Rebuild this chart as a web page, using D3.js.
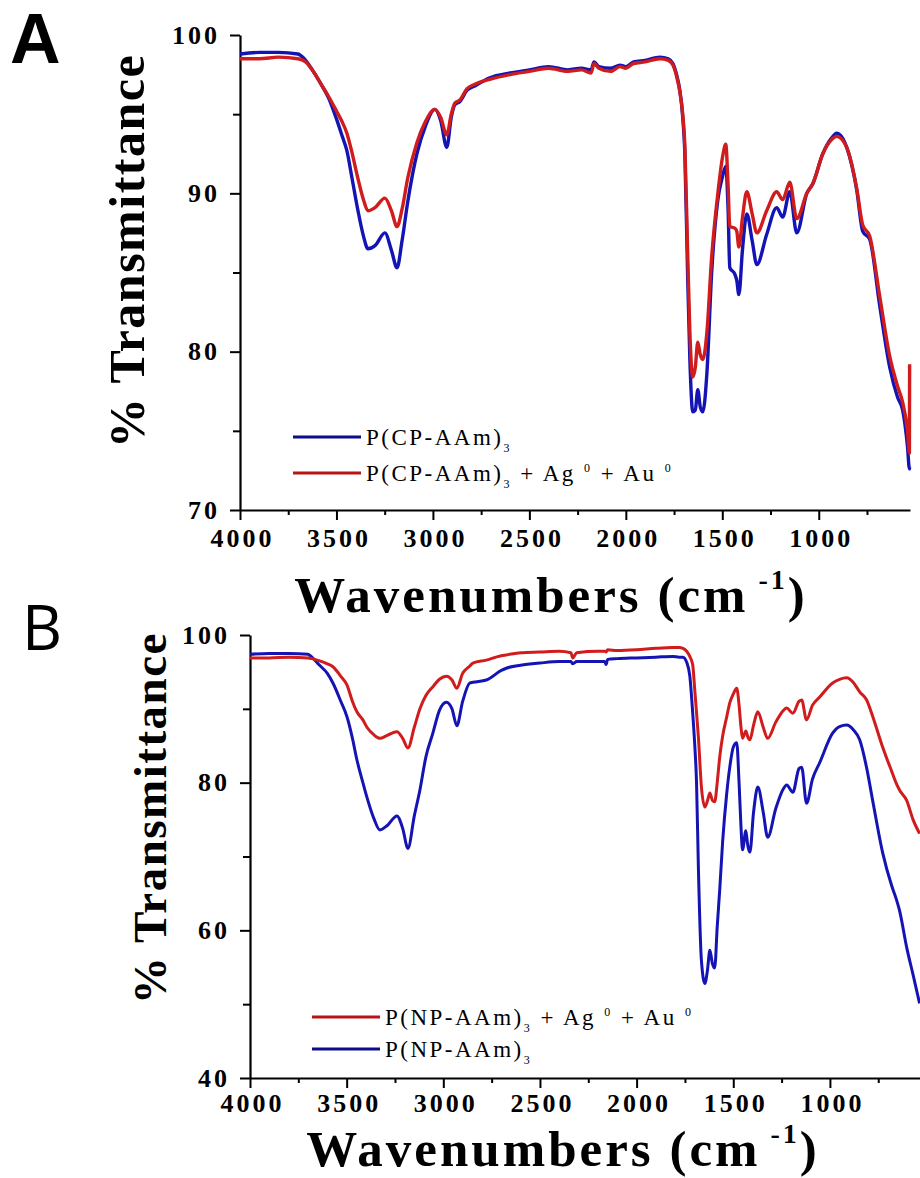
<!DOCTYPE html>
<html>
<head>
<meta charset="utf-8">
<script src="https://cdn.jsdelivr.net/npm/d3@7/dist/d3.min.js"></script>
<style>
body { margin: 0; background: #fff; }
svg { display: block; }
.tick text { font-family: "Liberation Serif", "Times New Roman", serif; font-weight: bold; font-size: 26px; letter-spacing: 3px; fill: #000; }
.serif { font-family: "Liberation Serif", "Times New Roman", serif; fill: #000; }
</style>
</head>
<body>
<div id="chart"></div>
<script>
'use strict';

// Panel A - P(CP-AAm)3 spectra
var waveA = [4000, 3900, 3800, 3700, 3660, 3620, 3580, 3540, 3500, 3470, 3446, 3420, 3390, 3360, 3337, 3300, 3249, 3215, 3186, 3160,
    3130, 3083, 3040, 2990, 2960, 2928, 2905, 2886, 2860, 2824, 2780, 2705, 2600, 2500, 2400, 2300, 2230, 2180, 2165, 2140,
    2080, 2030, 2000, 1960, 1900, 1824, 1780, 1756, 1735, 1720, 1705, 1694, 1680, 1668, 1653, 1640, 1627, 1614, 1601, 1580,
    1555, 1523, 1500, 1482, 1470, 1461, 1435, 1425, 1414, 1395, 1373, 1345, 1321, 1270, 1218, 1187, 1150, 1114, 1062, 1031,
    979, 933, 907, 855, 803, 772, 736, 684, 632, 591, 565, 540, 530, 529];
var blueA = [98.8, 98.9, 98.9, 98.8, 98.4, 97.7, 96.9, 96.0, 94.7, 93.6, 92.7, 91.0, 89.0, 87.3, 86.5, 86.7, 87.5, 86.4, 85.3, 87.0,
    89.5, 92.5, 94.2, 95.3, 94.6, 92.9, 94.8, 95.6, 95.8, 96.5, 96.8, 97.3, 97.6, 97.8, 98.0, 97.8, 97.9, 97.8, 98.3, 98.0,
    97.9, 98.1, 98.0, 98.3, 98.4, 98.6, 98.5, 98.2, 97.4, 96.5, 94.8, 92.5, 85.0, 79.5, 76.2, 76.3, 77.6, 76.5, 76.2, 78.6,
    85.0, 89.6, 91.0, 91.7, 89.0, 85.3, 84.9, 84.5, 83.6, 86.5, 88.7, 87.0, 85.5, 87.4, 89.1, 88.5, 90.1, 87.5, 90.0, 90.6,
    92.5, 93.5, 93.8, 92.9, 90.2, 87.6, 87.1, 82.9, 79.0, 77.1, 76.3, 74.0, 72.6, 72.7];
var redA = [98.5, 98.5, 98.6, 98.5, 98.3, 97.7, 96.9, 96.1, 95.2, 94.5, 93.8, 92.6, 91.0, 89.6, 88.9, 89.1, 89.7, 88.9, 87.9, 89.0,
    91.0, 93.2, 94.5, 95.3, 94.8, 93.7, 95.0, 95.7, 95.9, 96.6, 96.9, 97.2, 97.5, 97.7, 97.9, 97.7, 97.8, 97.6, 98.2, 97.9,
    97.7, 98.0, 97.9, 98.2, 98.3, 98.5, 98.4, 98.1, 97.3, 96.4, 95.0, 93.0, 86.5, 81.2, 78.4, 79.0, 80.6, 79.8, 79.5, 81.2,
    86.0, 90.0, 92.2, 93.1, 90.5, 87.9, 87.8, 87.6, 86.6, 88.5, 90.1, 88.7, 87.5, 88.9, 90.1, 89.6, 90.7, 88.4, 90.0, 90.6,
    92.5, 93.4, 93.6, 92.9, 90.3, 88.0, 87.3, 83.5, 79.7, 77.8, 76.8, 75.0, 73.6, 79.2];

// Panel B - P(NP-AAm)3 spectra
var waveB = [4000, 3900, 3800, 3700, 3680, 3640, 3600, 3571, 3530, 3498, 3470, 3447, 3416, 3395, 3360, 3328, 3290, 3240, 3210, 3183,
    3150, 3121, 3090, 3054, 3020, 2984, 2955, 2930, 2900, 2863, 2847, 2777, 2700, 2674, 2600, 2500, 2400, 2340, 2330, 2310,
    2200, 2165, 2158, 2150, 2100, 2000, 1900, 1813, 1780, 1760, 1741, 1725, 1710, 1699, 1690, 1680, 1665, 1647, 1634, 1621,
    1608, 1596, 1583, 1570, 1555, 1534, 1518, 1500, 1482, 1470, 1460, 1452, 1435, 1425, 1414, 1395, 1373, 1345, 1322, 1280,
    1240, 1224, 1192, 1160, 1146, 1121, 1090, 1053, 986, 950, 913, 880, 846, 810, 779, 727, 680, 655, 640, 603,
    570, 536];
var blueB = [97.4, 97.5, 97.5, 97.4, 97.0, 95.9, 94.8, 93.5, 91.0, 88.9, 86.0, 83.1, 80.0, 78.0, 75.2, 73.6, 74.2, 75.5, 73.8, 71.1,
    75.5, 79.0, 83.5, 86.7, 89.8, 90.9, 90.0, 87.7, 91.0, 93.5, 93.6, 93.9, 95.2, 95.5, 95.9, 96.2, 96.4, 96.4, 96.1, 96.4,
    96.4, 96.4, 96.0, 96.7, 96.8, 96.9, 97.0, 97.1, 97.0, 97.0, 96.3, 94.5, 89.5, 85.0, 80.0, 68.0, 56.0, 52.8, 54.5, 57.3,
    55.5, 54.9, 60.5, 65.5, 72.0, 78.5, 82.1, 84.8, 85.4, 80.0, 74.0, 70.9, 73.5, 71.5, 70.6, 76.0, 79.4, 76.0, 72.6, 76.5,
    79.2, 79.7, 78.7, 81.9, 82.1, 77.2, 80.5, 82.7, 86.7, 87.6, 87.8, 87.2, 85.8, 82.0, 77.6, 70.5, 66.0, 64.1, 62.7, 57.7,
    54.0, 50.1];
var redB = [96.9, 96.9, 97.0, 96.9, 96.8, 96.5, 96.1, 95.7, 94.4, 93.2, 91.0, 89.6, 88.5, 87.5, 86.5, 86.0, 86.4, 86.9, 86.0, 84.7,
    87.5, 90.0, 91.8, 93.0, 94.0, 94.4, 93.9, 92.8, 94.8, 95.8, 96.2, 96.6, 97.2, 97.3, 97.6, 97.7, 97.8, 97.6, 96.9, 97.6,
    97.8, 97.8, 97.7, 98.0, 97.9, 98.0, 98.2, 98.3, 98.3, 98.2, 97.8, 97.1, 96.0, 92.5, 89.5, 86.0, 79.5, 76.7, 77.5, 78.6,
    77.6, 77.4, 80.0, 83.5, 86.3, 88.9, 90.8, 92.0, 92.8, 90.5, 87.5, 86.0, 87.0, 86.2, 85.8, 87.8, 89.6, 87.5, 86.0, 88.2,
    89.8, 90.1, 89.4, 91.0, 91.2, 88.5, 90.5, 91.6, 93.5, 94.0, 94.2, 93.6, 92.3, 91.2, 89.0, 84.8, 81.5, 79.8, 79.0, 77.6,
    75.0, 73.1];

var xTicks = [4000, 3500, 3000, 2500, 2000, 1500, 1000];
var xMinorTicks = [3750, 3250, 2750, 2250, 1750, 1250, 750];
var yTicksA = [70, 80, 90, 100];
var yMinorA = [75, 85, 95];
var yTicksB = [40, 60, 80, 100];
var yMinorB = [50, 70, 90];

var blueColor = "#1414b4";
var redColor = "#d01c1c";

var svg = d3.select("#chart")
    .append("svg")
    .attr("width", 920)
    .attr("height", 1178);

function addLegendText(t, base, metals) {
    t.append("tspan").text(base);
    t.append("tspan").attr("dy", 7).style("font-size", "12px").text("3");
    if (metals) {
        t.append("tspan").attr("dy", -7).text(" + Ag ");
        t.append("tspan").attr("dy", -9).style("font-size", "12px").text("0");
        t.append("tspan").attr("dy", 9).text(" + Au ");
        t.append("tspan").attr("dy", -9).style("font-size", "12px").text("0");
    }
}

function drawPanel(p) {
    var x = d3.scaleLinear().domain(p.xDomain).range([p.left, p.right]);
    var y = d3.scaleLinear().domain(p.yDomain).range([p.bottom, p.top]);
    var g = svg.append("g");

    // minor ticks first, labels off
    g.append("g")
        .attr("transform", "translate(0," + p.bottom + ")")
        .call(d3.axisBottom(x).tickValues(xMinorTicks).tickSize(5).tickSizeOuter(0).tickFormat(""))
        .call(function (s) { s.select(".domain").remove(); s.selectAll("line").attr("stroke-width", 2); });
    g.append("g")
        .attr("transform", "translate(" + p.left + ",0)")
        .call(d3.axisLeft(y).tickValues(p.yMinor).tickSize(7).tickSizeOuter(0).tickFormat(""))
        .call(function (s) { s.select(".domain").remove(); s.selectAll("line").attr("stroke-width", 2); });

    g.append("g")
        .attr("transform", "translate(0," + p.bottom + ")")
        .call(d3.axisBottom(x).tickValues(xTicks).tickSize(10).tickSizeOuter(0).tickPadding(p.xPad).tickFormat(d3.format("d")))
        .call(function (s) {
            s.select(".domain").attr("stroke-width", 2.2);
            s.selectAll("line").attr("stroke-width", 2);
            s.selectAll("text").attr("dx", 2);
        });
    g.append("g")
        .attr("transform", "translate(" + p.left + ",0)")
        .call(d3.axisLeft(y).tickValues(p.yTicks).tickSize(10).tickSizeOuter(0).tickPadding(10).tickFormat(d3.format("d")))
        .call(function (s) {
            s.select(".domain").attr("stroke-width", 2.2);
            s.selectAll("line").attr("stroke-width", 2);
        });

    var line = d3.line()
        .x(function (d) { return x(d[0]); })
        .y(function (d) { return y(d[1]); })
        .curve(d3.curveMonotoneX);

    p.series.forEach(function (s) {
        g.append("path")
            .datum(d3.zip(s.wave, s.values))
            .attr("fill", "none")
            .attr("stroke", s.color)
            .attr("stroke-width", p.lineWidth)
            .attr("stroke-linejoin", "round")
            .attr("d", line);
    });

    // legend
    p.legend.forEach(function (item, i) {
        var ly = p.legendY + i * p.legendGap;
        g.append("line")
            .attr("x1", p.legendX).attr("x2", p.legendX + 68)
            .attr("y1", ly).attr("y2", ly)
            .attr("stroke", item.color)
            .attr("stroke-width", 3);
        var t = g.append("text")
            .attr("class", "serif")
            .attr("x", p.legendX + 73)
            .attr("y", ly + 8)
            .style("font-size", "23px")
            .style("letter-spacing", "2.5px");
        addLegendText(t, item.name, item.metals);
    });

    // axis titles
    g.append("text")
        .attr("class", "serif")
        .attr("transform", "translate(" + p.yTitleX + "," + p.yTitleY + ") rotate(-90)")
        .attr("text-anchor", "middle")
        .style("font-weight", "bold")
        .style("font-size", p.yTitleSize + "px")
        .style("letter-spacing", "1.5px")
        .text("% Transmittance");

    var xt = g.append("text")
        .attr("class", "serif")
        .attr("x", p.xTitleX)
        .attr("y", p.xTitleY)
        .attr("text-anchor", "middle")
        .style("font-weight", "bold")
        .style("font-size", "51px")
        .style("letter-spacing", "3px");
    xt.append("tspan").text("Wavenumbers (cm");
    xt.append("tspan").attr("dy", -23).style("font-size", "28px").text(" -1");
    xt.append("tspan").attr("dy", 23).text(")");

    svg.append("text")
        .attr("x", p.tagX)
        .attr("y", p.tagY)
        .style("font-family", p.tagFont)
        .style("font-weight", p.tagWeight)
        .style("font-size", p.tagSize + "px")
        .text(p.tag);
}

drawPanel({
    tag: "A", tagX: 10, tagY: 63, tagSize: 70, tagWeight: "bold", tagFont: "'Liberation Sans', Arial, sans-serif",
    xDomain: [4000, 527], yDomain: [70, 100],
    left: 240, right: 910, top: 35, bottom: 510,
    yTicks: yTicksA, yMinor: yMinorA, xPad: 9,
    lineWidth: 3.4,
    series: [
        { wave: waveA, values: blueA, color: blueColor },
        { wave: waveA, values: redA, color: redColor }
    ],
    legend: [
        { name: "P(CP-AAm)", metals: false, color: "#0c0c8c" },
        { name: "P(CP-AAm)", metals: true, color: "#b81414" }
    ],
    legendX: 293, legendY: 437, legendGap: 36,
    yTitleX: 144, yTitleY: 251, yTitleSize: 50,
    xTitleX: 551, xTitleY: 612
});

drawPanel({
    tag: "B", tagX: 22, tagY: 650, tagSize: 62, tagWeight: "normal", tagFont: "'Open Sans', 'Noto Sans', sans-serif",
    xDomain: [4000, 534], yDomain: [40, 100],
    left: 250, right: 920, top: 635, bottom: 1078,
    yTicks: yTicksB, yMinor: yMinorB, xPad: 6,
    lineWidth: 3,
    series: [
        { wave: waveB, values: blueB, color: blueColor },
        { wave: waveB, values: redB, color: redColor }
    ],
    legend: [
        { name: "P(NP-AAm)", metals: true, color: "#b81414" },
        { name: "P(NP-AAm)", metals: false, color: "#0c0c8c" }
    ],
    legendX: 312, legendY: 1017, legendGap: 32,
    yTitleX: 166, yTitleY: 818, yTitleSize: 47,
    xTitleX: 563, xTitleY: 1166
});
</script>
</body>
</html>
